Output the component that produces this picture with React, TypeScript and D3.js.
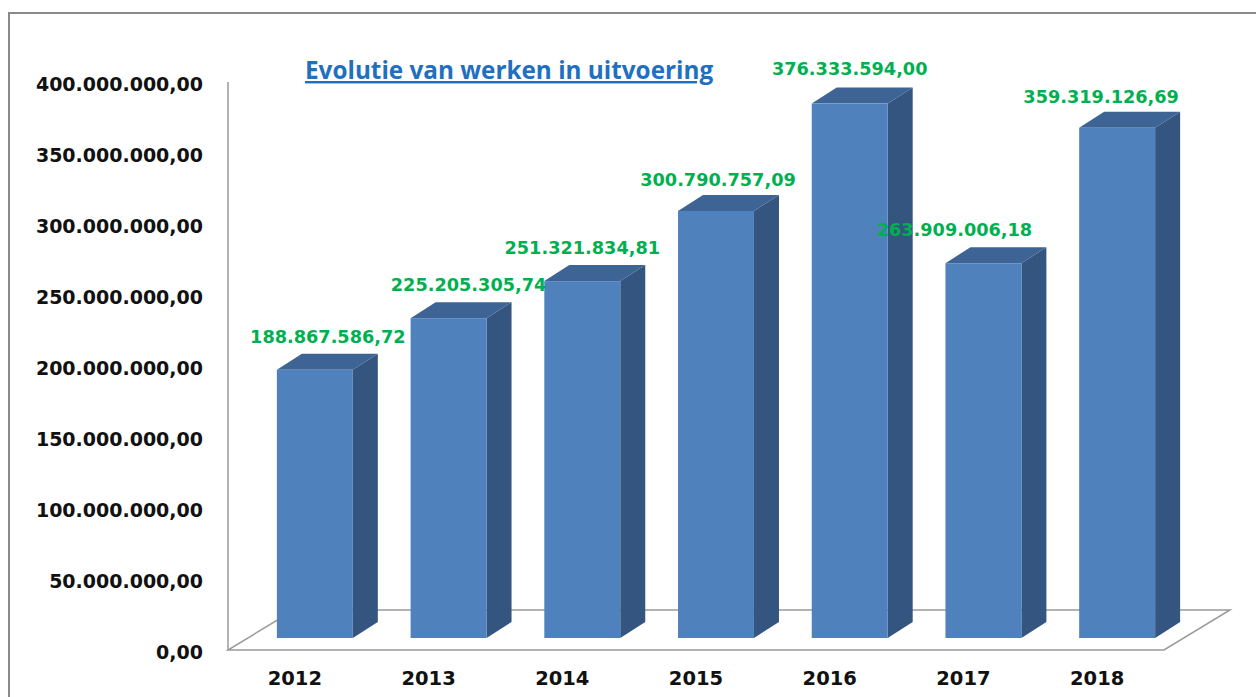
import React from "react";
import * as d3 from "d3";

const years = ["2012", "2013", "2014", "2015", "2016", "2017", "2018"];
const values = [188867586.72, 225205305.74, 251321834.81, 300790757.09, 376333594.0, 263909006.18, 359319126.69];
const valueLabels = ["188.867.586,72", "225.205.305,74", "251.321.834,81", "300.790.757,09", "376.333.594,00", "263.909.006,18", "359.319.126,69"];
const yTicks = [0, 50000000, 100000000, 150000000, 200000000, 250000000, 300000000, 350000000, 400000000];
const title = "Evolutie van werken in uitvoering";

// label nudges (layout, as placed in the original)
const labelDx = [13, 20, 0, 2, 0, -29, -16];
const labelDy = [-11, -11, -11, -9, -12.5, -11, -8.5];

const W = 1256;
const H = 697;

function fmtTick(v: number) {
  if (v === 0) return "0,00";
  const s = d3.format(",")(v).replace(/,/g, ".");
  return s + ",00";
}

export default function App() {
  const x0 = 228;
  const x1 = 1164;
  const yFloor = 650;
  const yTop = 82;
  const floorDx = 66;
  const floorDy = -40;
  const barShiftX = 20;
  const barShiftY = -12;
  const depthX = 25;
  const depthY = -16;

  const x = d3.scaleBand<string>().domain(years).range([x0, x1]).paddingInner(0.432).paddingOuter(0.216);
  const y = d3.scaleLinear().domain([0, 400000000]).range([yFloor, yTop]);
  const bw = x.bandwidth();

  const floor = d3.path();
  floor.moveTo(x0, yFloor);
  floor.lineTo(x1, yFloor);
  floor.lineTo(x1 + floorDx, yFloor + floorDy);
  floor.lineTo(x0 + floorDx, yFloor + floorDy);
  floor.closePath();

  return (
    <svg width={W} height={H} style={{ position: "absolute", left: 0, top: 0, background: "#fff" }}>
      <rect x={0} y={0} width={W} height={H} fill="#fff" />
      {/* frame */}
      <path d={`M9,${H + 5} L9,13 L${W + 5},13`} fill="none" stroke="#8a8a8a" strokeWidth={2} />
      {/* floor */}
      <path d={floor.toString()} fill="#fff" stroke="#9a9a9a" strokeWidth={1.5} />
      {/* vertical axis */}
      <line x1={x0} y1={yTop} x2={x0} y2={yFloor} stroke="#9a9a9a" strokeWidth={1.5} />
      {/* tick labels */}
      {yTicks.map((t) => (
        <text
          key={t}
          x={203}
          y={y(t) + 2}
          textAnchor="end"
          dominantBaseline="central"
          fontFamily="DejaVu Sans"
          fontWeight="bold"
          fontSize={19}
          fill="#111"
        >
          {fmtTick(t)}
        </text>
      ))}
      {/* bars */}
      {years.map((yr, i) => {
        const bx = (x(yr) as number) + barShiftX;
        const by = y(values[i]) + barShiftY;
        const bb = y(0) + barShiftY;
        const br = bx + bw;
        const top = `M${bx},${by} L${bx + depthX},${by + depthY} L${br + depthX},${by + depthY} L${br},${by} Z`;
        const side = `M${br},${by} L${br + depthX},${by + depthY} L${br + depthX},${bb + depthY} L${br},${bb} Z`;
        return (
          <g key={yr}>
            <path d={side} fill="#34557f" />
            <path d={top} fill="#3d6494" />
            <rect x={bx} y={by} width={bw} height={bb - by} fill="#4f81bd" />
          </g>
        );
      })}
      {/* value labels */}
      {years.map((yr, i) => {
        const cx = (x(yr) as number) + barShiftX + bw / 2 + labelDx[i];
        const backTop = y(values[i]) + barShiftY + depthY;
        return (
          <text
            key={"l" + yr}
            x={cx}
            y={backTop + labelDy[i]}
            textAnchor="middle"
            fontFamily="DejaVu Sans"
            fontWeight="bold"
            fontSize={17.7}
            fill="#00b050"
          >
            {valueLabels[i]}
          </text>
        );
      })}
      {/* category labels */}
      {years.map((yr) => (
        <text
          key={"c" + yr}
          x={(x(yr) as number) + bw / 2}
          y={685}
          textAnchor="middle"
          fontFamily="DejaVu Sans"
          fontWeight="bold"
          fontSize={19.5}
          fill="#111"
        >
          {yr}
        </text>
      ))}
      {/* title */}
      <text x={305} y={79} fontFamily="Open Sans" fontWeight="bold" fontSize={24.3} fill="#1f70c1" textDecoration="underline">
        {title}
      </text>
    </svg>
  );
}
